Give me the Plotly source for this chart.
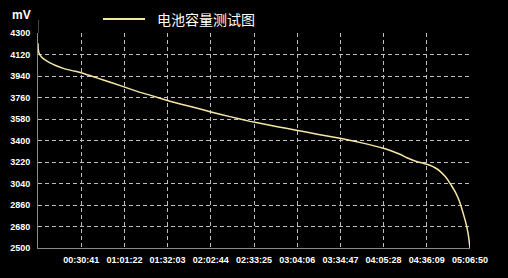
import plotly.graph_objects as go

# time in seconds since start, voltage in mV
time_s = [0, 10, 40, 100, 200, 350, 511, 750, 1078, 1450, 1832, 2300, 2783, 3635, 4317, 4773,
          5625, 6500, 7330, 8182, 9035, 9460, 10200, 10952, 11900, 12870, 13800, 14716,
          15100, 15427, 15700, 15981, 16200, 16450, 16700, 16919, 17150, 17345, 17500,
          17643, 17780, 17899, 18010, 18112, 18200, 18282, 18350, 18410]
voltage_mv = [4215, 4165, 4135, 4110, 4090, 4068, 4050, 4028, 4004, 3985, 3968, 3938, 3907,
              3851, 3805, 3780, 3728, 3685, 3641, 3600, 3560, 3545, 3516, 3488, 3453, 3418,
              3380, 3335, 3310, 3285, 3258, 3235, 3220, 3208, 3193, 3172, 3140, 3100, 3060,
              3015, 2970, 2920, 2862, 2795, 2735, 2668, 2595, 2500]

x_ticks = ["00:30:41", "01:01:22", "01:32:03", "02:02:44", "02:33:25",
           "03:04:06", "03:34:47", "04:05:28", "04:36:09", "05:06:50"]
y_ticks = [2500, 2680, 2860, 3040, 3220, 3400, 3580, 3760, 3940, 4120, 4300]

series_name = "电池容量测试图"
unit_label = "mV"


def to_sec(s):
    h, m, sec = s.split(":")
    return int(h) * 3600 + int(m) * 60 + int(sec)


x_vals = [to_sec(s) for s in x_ticks]

line_color = "#f5e6a6"
tick_font = dict(family="Liberation Sans, Arial, sans-serif", size=9, color="#ffffff", weight="bold")

fig = go.Figure()
fig.add_trace(go.Scatter(x=time_s, y=voltage_mv, mode="lines",
                         line=dict(color=line_color, width=1.5, shape="spline", smoothing=0.3),
                         name=series_name, showlegend=False, cliponaxis=True))

fig.update_layout(
    width=508, height=278,
    paper_bgcolor="#000000", plot_bgcolor="#000000",
    margin=dict(l=38, r=38, t=33, b=30),
    xaxis=dict(range=[0, x_vals[-1]], tickvals=x_vals, ticktext=x_ticks, tickangle=0,
               showgrid=True, gridcolor="#bdbdbd", griddash="4px,3px", gridwidth=1,
               showline=True, linecolor="#8a8a8a", linewidth=1, zeroline=False,
               ticks="", tickfont=tick_font, automargin=False, ticklabelstandoff=3),
    yaxis=dict(range=[2500, 4300], tickvals=y_ticks,
               showgrid=True, gridcolor="#bdbdbd", griddash="4px,3px", gridwidth=1,
               showline=True, linecolor="#8a8a8a", linewidth=1, zeroline=False,
               ticks="", tickfont=tick_font, ticklabelstandoff=5, automargin=False),
    showlegend=False,
)

# y axis extension above top gridline
fig.add_shape(type="line", xref="x", yref="paper", x0=0, x1=0, y0=1, y1=1 + 13 / 215,
              line=dict(color="#8a8a8a", width=1))
# legend sample line
fig.add_shape(type="line", xref="paper", yref="paper",
              x0=(103 - 38) / 432, x1=(145 - 38) / 432, y0=1 + 14 / 215, y1=1 + 14 / 215,
              line=dict(color=line_color, width=2))
fig.add_annotation(text=series_name, xref="paper", yref="paper",
                   x=(155 - 38) / 432, y=1 + 14 / 215, xanchor="left", yanchor="middle",
                   showarrow=False, font=dict(family="Noto Sans CJK SC", size=14, color="#ffffff"))
fig.add_annotation(text="<b>" + unit_label + "</b>", xref="paper", yref="paper",
                   x=(33 - 38) / 432, y=1 + 18 / 215, xanchor="right", yanchor="middle",
                   showarrow=False, font=dict(family="Liberation Sans, sans-serif", size=12, color="#ffffff"))

fig.write_html("out.html")
